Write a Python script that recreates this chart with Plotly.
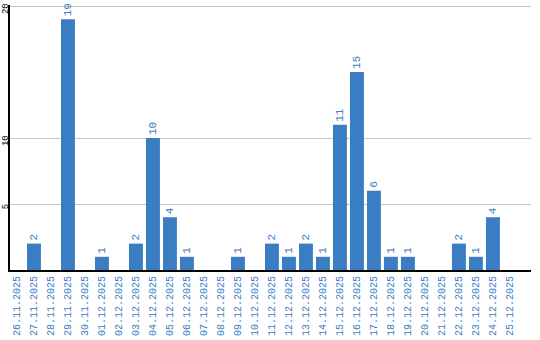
import plotly.graph_objects as go

dates = ["26.11.2025","27.11.2025","28.11.2025","29.11.2025","30.11.2025",
         "01.12.2025","02.12.2025","03.12.2025","04.12.2025","05.12.2025",
         "06.12.2025","07.12.2025","08.12.2025","09.12.2025","10.12.2025",
         "11.12.2025","12.12.2025","13.12.2025","14.12.2025","15.12.2025",
         "16.12.2025","17.12.2025","18.12.2025","19.12.2025","20.12.2025",
         "21.12.2025","22.12.2025","23.12.2025","24.12.2025","25.12.2025"]
values = [0,2,0,19,0,1,0,2,10,4,1,0,0,1,0,2,1,2,1,11,15,6,1,1,0,0,2,1,4,0]
y_ticks = [5, 10, 20]

BLUE = "#3b7dc3"
FONT = "Liberation Mono"

labels = [str(v) if v else "" for v in values]

fig = go.Figure(go.Bar(
    x=dates, y=values, text=labels,
    textposition="outside", textangle=-90,
    textfont=dict(family=FONT, size=11, color=BLUE),
    marker=dict(color=BLUE, line=dict(width=0)),
    cliponaxis=False,
))

fig.update_layout(
    width=540, height=340,
    margin=dict(l=10, r=9, t=5, b=70),
    plot_bgcolor="white", paper_bgcolor="white",
    bargap=0.18, showlegend=False,
)
fig.update_xaxes(
    type="category", range=[-0.41, 30.24],
    tickangle=-90, tickfont=dict(family=FONT, size=10, color=BLUE),
    showline=True, linecolor="black", linewidth=2,
    showgrid=False, ticks="", automargin=False,
)
fig.update_yaxes(
    range=[0, 20.08], tickvals=y_ticks, ticktext=[str(t) for t in y_ticks],
    tickangle=-90, tickfont=dict(family=FONT, size=9, color="black"),
    showline=True, linecolor="black", linewidth=2,
    showgrid=True, gridcolor="#c8c8c8", gridwidth=1,
    zeroline=False, ticks="", automargin=False, ticklabelstandoff=-4,
    ticklabelshift=4, ticklabeloverflow="allow",
)

fig.write_html("out.html")
